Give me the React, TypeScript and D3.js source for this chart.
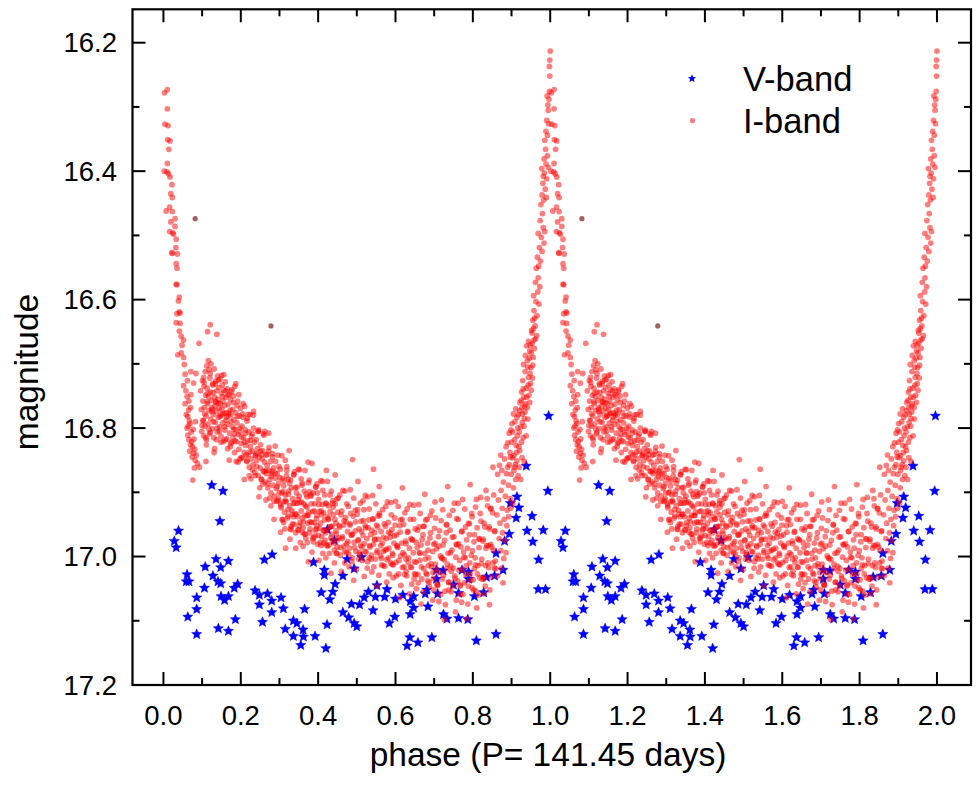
import React from "react";
import * as d3 from "d3";

type Pt = [number, number];

// V-band observations (phase, magnitude)
const vBand: Pt[] = [
  [0.125,16.889],[0.154,16.898],[0.146,16.945],[0.039,16.960],[0.028,16.976],[0.033,16.986],[0.136,17.004],[0.168,17.007],
  [0.108,17.016],[0.148,17.017],[0.128,17.030],[0.061,17.028],[0.059,17.039],[0.066,17.039],[0.141,17.039],[0.148,17.042],
  [0.192,17.043],[0.183,17.049],[0.106,17.049],[0.086,17.064],[0.149,17.062],[0.168,17.062],[0.158,17.068],[0.086,17.082],
  [0.063,17.094],[0.186,17.098],[0.142,17.112],[0.168,17.116],[0.086,17.121],[0.261,17.005],[0.281,16.997],[0.237,17.053],
  [0.248,17.060],[0.269,17.058],[0.304,17.064],[0.248,17.075],[0.280,17.069],[0.310,17.081],[0.280,17.087],[0.365,17.082],
  [0.256,17.102],[0.336,17.100],[0.345,17.104],[0.315,17.113],[0.361,17.114],[0.336,17.124],[0.362,17.125],[0.392,17.124],
  [0.355,17.138],[0.420,17.143],[0.423,17.106],[0.424,16.958],[0.442,16.975],[0.388,17.009],[0.416,17.021],[0.416,17.029],
  [0.464,17.030],[0.475,17.004],[0.493,17.019],[0.444,17.043],[0.438,17.055],[0.408,17.056],[0.430,17.067],[0.486,17.074],
  [0.464,17.087],[0.479,17.095],[0.493,17.104],[0.500,17.109],
  [0.938,16.859],[0.994,16.898],[0.914,16.907],[0.897,16.917],[0.919,16.924],[0.912,16.940],[0.953,16.937],[0.940,16.960],
  [0.982,16.959],[0.955,16.977],[0.894,16.965],[0.882,16.976],[0.970,17.005],[0.860,16.995],[0.878,17.021],[0.856,17.030],
  [0.835,17.032],[0.969,17.051],[0.988,17.051],[0.789,17.024],[0.772,17.021],[0.789,17.035],[0.723,17.022],[0.706,17.021],
  [0.706,17.035],[0.750,17.044],[0.763,17.057],[0.804,17.062],[0.828,17.056],[0.681,17.052],[0.709,17.058],[0.677,17.058],
  [0.684,17.078],[0.724,17.090],[0.733,17.097],[0.763,17.096],[0.787,17.098],[0.860,17.121],[0.809,17.131],[0.694,17.126],
  [0.658,17.134],[0.637,17.126],[0.630,17.139],[0.638,17.090],[0.647,17.080],[0.638,17.070],[0.647,17.062],[0.619,17.060],
  [0.600,17.066],[0.578,17.051],[0.552,17.045],[0.530,17.055],[0.548,17.063],[0.572,17.063],[0.519,17.064],[0.507,17.075],
  [0.542,17.084],[0.598,17.094],[0.584,17.104],[0.512,17.001],[0.996,16.781],
];

// I-band: fast decline after maximum
const iBandDecline: Pt[] = [
  [0.003,16.278],[0.010,16.273],[0.010,16.303],[0.004,16.327],[0.012,16.329],[0.011,16.351],[0.017,16.353],[0.014,16.366],
  [0.010,16.388],[0.002,16.400],[0.009,16.401],[0.013,16.404],[0.017,16.409],[0.022,16.421],[0.019,16.435],[0.023,16.441],
  [0.016,16.456],[0.007,16.462],[0.023,16.463],[0.019,16.479],[0.030,16.474],[0.030,16.486],[0.016,16.494],[0.024,16.496],
  [0.026,16.498],[0.033,16.506],[0.032,16.519],[0.022,16.527],[0.023,16.528],[0.036,16.529],[0.033,16.544],[0.035,16.551],
  [0.033,16.576],[0.035,16.577],[0.041,16.596],[0.039,16.602],[0.041,16.619],[0.043,16.621],[0.035,16.622],[0.033,16.636],
  [0.043,16.637],[0.041,16.649],[0.046,16.657],[0.052,16.663],[0.048,16.671],[0.046,16.683],[0.037,16.686],[0.052,16.690],
  [0.054,16.701],[0.056,16.716],[0.071,16.712],[0.084,16.715],[0.078,16.730],[0.052,16.734],[0.061,16.751],[0.056,16.762],
  [0.065,16.772],[0.063,16.782],[0.069,16.793],[0.061,16.800],[0.063,16.811],[0.073,16.821],[0.075,16.829],[0.078,16.839],
  [0.082,16.850],[0.093,16.861],[0.076,16.881],[0.092,16.668],[0.114,16.650],[0.121,16.639],[0.138,16.654],
  [0.058,16.742],[0.066,16.758],[0.070,16.768],[0.059,16.779],[0.067,16.789],[0.072,16.806],[0.066,16.818],[0.070,16.826],
  [0.079,16.817],[0.081,16.833],[0.074,16.845],[0.085,16.842],[0.088,16.855],[0.080,16.862],[0.068,16.836],[0.064,16.797],
  [0.077,16.802],[0.083,16.790],[0.071,16.748],[0.062,16.726],
];

// I-band: secondary bump and early decline
const iBandBump: Pt[] = [
  [0.096,16.742],[0.098,16.771],[0.099,16.805],[0.101,16.726],[0.102,16.758],[0.103,16.789],[0.104,16.812],[0.105,16.735],
  [0.106,16.768],[0.107,16.797],[0.108,16.712],[0.109,16.749],[0.110,16.781],[0.111,16.826],[0.112,16.703],[0.113,16.738],
  [0.114,16.762],[0.115,16.794],[0.116,16.695],[0.117,16.751],[0.118,16.773],[0.119,16.809],[0.120,16.722],[0.121,16.744],
  [0.122,16.786],[0.123,16.700],[0.124,16.757],[0.125,16.768],[0.126,16.801],[0.127,16.731],[0.128,16.745],[0.129,16.779],
  [0.130,16.815],[0.131,16.708],[0.132,16.752],[0.133,16.766],[0.134,16.791],[0.135,16.727],[0.136,16.760],[0.137,16.774],
  [0.138,16.742],[0.139,16.806],[0.140,16.719],[0.141,16.755],[0.142,16.783],[0.143,16.737],[0.144,16.769],[0.145,16.798],
  [0.146,16.724],[0.147,16.762],[0.148,16.780],[0.149,16.813],[0.150,16.746],[0.151,16.771],[0.152,16.733],[0.153,16.792],
  [0.154,16.758],[0.155,16.821],[0.156,16.741],[0.157,16.777],[0.158,16.765],[0.159,16.803],[0.160,16.728],[0.161,16.788],
  [0.162,16.752],[0.163,16.776],[0.164,16.817],[0.165,16.739],[0.166,16.794],[0.167,16.763],[0.168,16.781],[0.170,16.748],
  [0.171,16.808],[0.172,16.772],[0.173,16.829],[0.174,16.756],[0.175,16.790],[0.176,16.743],[0.178,16.798],[0.179,16.771],
  [0.180,16.815],[0.181,16.760],[0.182,16.787],[0.184,16.838],[0.185,16.735],[0.186,16.802],[0.187,16.776],[0.189,16.821],
  [0.190,16.792],[0.192,16.758],[0.193,16.810],[0.195,16.833],[0.196,16.781],[0.198,16.806],[0.199,16.769],[0.201,16.824],
  [0.203,16.797],[0.204,16.846],[0.206,16.783],[0.207,16.815],[0.209,16.838],[0.210,16.766],[0.212,16.803],[0.213,16.827],
  [0.215,16.851],[0.216,16.789],[0.218,16.820],[0.219,16.842],[0.221,16.806],[0.222,16.861],[0.224,16.779],[0.225,16.829],
  [0.227,16.848],[0.228,16.813],[0.230,16.836],[0.232,16.857],[0.233,16.800],[0.235,16.822],[0.236,16.869],[0.238,16.843],
  [0.240,16.818],[0.241,16.851],[0.243,16.832],[0.245,16.874],[0.246,16.803],[0.248,16.845],[0.250,16.862],[0.251,16.826],
  [0.253,16.880],[0.255,16.848],[0.256,16.835],[0.258,16.867],[0.260,16.811],[0.261,16.853],[0.263,16.884],[0.265,16.842],
  [0.266,16.871],[0.268,16.858],[0.270,16.893],[0.272,16.836],[0.273,16.866],[0.275,16.880],[0.277,16.852],[0.278,16.901],
  [0.280,16.871],[0.282,16.845],[0.283,16.889],[0.285,16.862],[0.287,16.906],[0.289,16.878],[0.290,16.852],[0.292,16.894],
  [0.294,16.871],[0.296,16.913],[0.298,16.886],[0.299,16.860],
  [0.131,16.838],[0.110,16.852],[0.187,16.731],[0.315,16.850],[0.374,16.853],[0.421,16.866],[0.489,16.849],[0.543,16.864],
];

// I-band: more points on the bump and early decline
const iBandBumpB: Pt[] = [
  [0.100,16.796],[0.104,16.721],[0.107,16.778],[0.111,16.818],[0.114,16.746],[0.118,16.709],[0.121,16.807],[0.125,16.771],
  [0.128,16.733],[0.132,16.832],[0.135,16.759],[0.139,16.800],[0.142,16.725],[0.146,16.782],[0.149,16.822],[0.153,16.751],
  [0.156,16.717],[0.160,16.818],[0.163,16.783],[0.167,16.748],[0.170,16.850],[0.174,16.779],[0.177,16.822],[0.181,16.750],
  [0.184,16.809],[0.188,16.852],[0.191,16.782],[0.195,16.748],[0.198,16.848],[0.202,16.814],[0.205,16.778],[0.209,16.880],
  [0.212,16.808],[0.216,16.852],[0.219,16.779],[0.223,16.837],[0.226,16.879],[0.230,16.809],[0.233,16.774],[0.237,16.874],
  [0.240,16.840],[0.244,16.805],[0.247,16.907],[0.251,16.836],[0.254,16.880],[0.258,16.809],[0.261,16.868],[0.265,16.912],
  [0.268,16.841],[0.272,16.808],[0.275,16.909],[0.279,16.875],[0.282,16.840],[0.286,16.942],[0.289,16.870],[0.293,16.914],
  [0.296,16.842],[0.299,16.901],
];

// I-band: third pass over the bump
const iBandBumpC: Pt[] = [
  [0.102,16.788],[0.105,16.729],[0.110,16.815],[0.113,16.759],[0.118,16.802],[0.121,16.715],[0.126,16.774],[0.129,16.790],
  [0.134,16.731],[0.137,16.818],[0.142,16.761],[0.145,16.805],[0.150,16.718],[0.153,16.778],[0.158,16.798],[0.161,16.742],
  [0.166,16.832],[0.169,16.777],[0.174,16.824],[0.177,16.740],[0.182,16.802],[0.185,16.820],[0.190,16.765],[0.193,16.853],
  [0.198,16.800],[0.201,16.846],[0.206,16.762],[0.209,16.822],[0.214,16.842],[0.217,16.785],[0.222,16.874],[0.225,16.819],
  [0.230,16.865],[0.233,16.780],[0.238,16.842],[0.241,16.860],[0.246,16.805],[0.249,16.893],[0.254,16.841],[0.257,16.887],
  [0.262,16.805],[0.265,16.866],[0.270,16.887],[0.273,16.830],[0.278,16.921],[0.281,16.867],[0.286,16.914],[0.289,16.828],
  [0.294,16.891],[0.297,16.910],
];

// I-band: slow plateau towards minimum (first set)
const iBandPlateauA: Pt[] = [
  [0.301,16.877],[0.303,16.918],[0.306,16.901],[0.308,16.942],[0.311,16.890],[0.313,16.931],[0.316,16.913],[0.318,16.874],
  [0.321,16.940],[0.323,16.903],[0.326,16.921],[0.328,16.957],[0.331,16.893],[0.333,16.934],[0.336,16.917],[0.338,16.950],
  [0.341,16.893],[0.343,16.934],[0.346,16.917],[0.348,16.958],[0.351,16.906],[0.353,16.947],[0.356,16.929],[0.358,16.889],
  [0.361,16.955],[0.363,16.918],[0.366,16.936],[0.368,16.971],[0.371,16.907],[0.373,16.948],[0.376,16.931],[0.378,16.963],
  [0.381,16.906],[0.383,16.947],[0.386,16.930],[0.388,16.970],[0.391,16.918],[0.393,16.959],[0.396,16.941],[0.398,16.901],
  [0.401,16.967],[0.403,16.930],[0.406,16.948],[0.408,16.983],[0.411,16.919],[0.413,16.960],[0.416,16.943],[0.418,16.975],
  [0.421,16.918],[0.423,16.959],[0.426,16.942],[0.428,16.982],[0.431,16.930],[0.433,16.971],[0.436,16.953],[0.438,16.913],
  [0.441,16.979],[0.443,16.942],[0.446,16.960],[0.448,16.995],[0.451,16.931],[0.453,16.971],[0.456,16.954],[0.458,16.986],
  [0.461,16.929],[0.463,16.969],[0.466,16.951],[0.468,16.992],[0.471,16.939],[0.473,16.980],[0.476,16.961],[0.478,16.922],
  [0.481,16.987],[0.483,16.949],[0.486,16.967],[0.488,17.002],[0.491,16.937],[0.493,16.978],[0.496,16.960],[0.498,16.992],
  [0.501,16.934],[0.503,16.975],[0.506,16.957],[0.508,16.997],[0.511,16.945],[0.513,16.985],[0.516,16.967],[0.518,16.927],
  [0.521,16.992],[0.523,16.955],[0.526,16.972],[0.528,17.008],[0.531,16.943],[0.533,16.983],[0.536,16.966],[0.538,16.998],
  [0.541,16.941],[0.543,16.981],[0.546,16.963],[0.548,17.004],[0.551,16.951],[0.553,16.991],[0.556,16.973],[0.558,16.933],
  [0.561,16.999],[0.563,16.961],[0.566,16.979],[0.568,17.014],[0.571,16.949],[0.573,16.990],[0.576,16.972],[0.578,17.005],
  [0.581,16.947],[0.583,16.987],[0.586,16.970],[0.588,17.010],[0.591,16.958],[0.593,16.998],[0.596,16.979],[0.598,16.940],
  [0.601,17.009],[0.603,16.966],[0.606,16.986],[0.608,17.027],[0.611,16.952],[0.613,16.999],[0.616,16.979],[0.618,17.017],
  [0.621,16.950],[0.623,16.997],[0.626,16.976],[0.628,17.023],[0.631,16.962],[0.633,17.009],[0.636,16.987],[0.638,16.942],
  [0.641,17.017],[0.643,16.974],[0.646,16.994],[0.648,17.035],[0.651,16.957],[0.653,17.009],[0.656,16.986],[0.658,17.028],
  [0.661,16.954],[0.663,17.006],[0.666,16.982],[0.668,17.035],[0.671,16.966],[0.673,17.019],[0.676,16.995],[0.678,16.943],
  [0.681,17.028],[0.683,16.979],[0.686,17.002],[0.688,17.047],[0.691,16.963],[0.693,17.016],[0.696,16.992],[0.698,17.034],
  [0.701,16.956],[0.703,17.012],[0.706,16.988],[0.708,17.044],[0.711,16.969],[0.713,17.025],[0.716,16.999],[0.718,16.944],
  [0.721,17.035],[0.723,16.982],[0.726,17.005],[0.728,17.054],[0.731,16.963],[0.733,17.019],[0.736,16.995],[0.738,17.040],
  [0.741,16.959],[0.743,17.015],[0.746,16.990],[0.748,17.046],[0.751,16.969],[0.753,17.030],[0.756,17.001],[0.758,16.941],
  [0.761,17.038],[0.763,16.980],[0.766,17.006],[0.768,17.059],[0.771,16.961],[0.773,17.020],[0.776,16.993],[0.778,17.041],
  [0.781,16.954],[0.783,17.014],[0.786,16.987],[0.788,17.046],[0.791,16.966],[0.793,17.027],[0.796,16.998],[0.798,16.938],
  [0.801,17.036],[0.803,16.977],[0.806,17.002],[0.808,17.054],[0.811,16.955],[0.813,17.014],[0.816,16.986],[0.818,17.033],
  [0.821,16.945],[0.823,17.004],[0.826,16.976],[0.828,17.035],[0.831,16.954],[0.833,17.014],[0.836,16.983],[0.838,16.921],
  [0.841,17.017],[0.843,16.957],[0.846,16.981],[0.848,17.032],[0.851,16.932],[0.853,16.990],[0.856,16.961],[0.858,17.007],
];

// I-band: slow plateau towards minimum (second set)
const iBandPlateauB: Pt[] = [
  [0.302,16.864],[0.304,16.924],[0.307,16.943],[0.309,16.899],[0.312,16.882],[0.314,16.957],[0.317,16.915],[0.319,16.860],
  [0.322,16.937],[0.324,16.898],[0.327,16.973],[0.329,16.881],[0.332,16.928],[0.334,16.949],[0.337,16.873],[0.339,16.917],
  [0.342,16.963],[0.344,16.901],[0.347,16.938],[0.349,16.864],[0.352,16.952],[0.354,16.978],[0.357,16.915],[0.359,16.886],
  [0.362,16.946],[0.364,16.965],[0.367,16.921],[0.369,16.903],[0.372,16.978],[0.374,16.936],[0.377,16.881],[0.379,16.957],
  [0.382,16.918],[0.384,16.993],[0.387,16.901],[0.389,16.947],[0.392,16.968],[0.394,16.892],[0.397,16.936],[0.399,16.981],
  [0.402,16.919],[0.404,16.956],[0.407,16.882],[0.409,16.969],[0.412,16.995],[0.414,16.932],[0.417,16.904],[0.419,16.963],
  [0.422,16.982],[0.424,16.938],[0.427,16.921],[0.429,16.995],[0.432,16.953],[0.434,16.898],[0.437,16.975],[0.439,16.935],
  [0.442,17.010],[0.444,16.918],[0.447,16.965],[0.449,16.985],[0.452,16.909],[0.454,16.952],[0.457,16.998],[0.459,16.935],
  [0.462,16.972],[0.464,16.897],[0.467,16.984],[0.469,17.010],[0.472,16.946],[0.474,16.918],[0.477,16.977],[0.479,16.996],
  [0.482,16.951],[0.484,16.933],[0.487,17.008],[0.489,16.965],[0.492,16.909],[0.494,16.986],[0.497,16.946],[0.499,17.020],
  [0.502,16.927],[0.504,16.974],[0.507,16.994],[0.509,16.917],[0.512,16.961],[0.514,17.006],[0.517,16.944],[0.519,16.980],
  [0.522,16.905],[0.524,16.993],[0.527,17.018],[0.529,16.955],[0.532,16.926],[0.534,16.985],[0.537,17.004],[0.539,16.959],
  [0.542,16.942],[0.544,17.016],[0.547,16.973],[0.549,16.918],[0.552,16.994],[0.554,16.954],[0.557,17.029],[0.559,16.936],
  [0.562,16.983],[0.564,17.003],[0.567,16.927],[0.569,16.970],[0.572,17.015],[0.574,16.953],[0.577,16.989],[0.579,16.915],
  [0.582,17.002],[0.584,17.027],[0.587,16.964],[0.589,16.935],[0.592,16.995],[0.594,17.013],[0.597,16.968],[0.599,16.951],
  [0.602,17.030],[0.604,16.983],[0.607,16.922],[0.609,17.006],[0.612,16.962],[0.614,17.045],[0.617,16.942],[0.619,16.994],
  [0.622,17.016],[0.624,16.932],[0.627,16.980],[0.629,17.030],[0.632,16.961],[0.634,17.002],[0.637,16.919],[0.639,17.016],
  [0.642,17.043],[0.644,16.974],[0.647,16.942],[0.649,17.008],[0.652,17.028],[0.654,16.978],[0.657,16.959],[0.659,17.041],
  [0.662,16.994],[0.664,16.933],[0.667,17.016],[0.669,16.973],[0.672,17.055],[0.674,16.953],[0.677,17.004],[0.679,17.026],
  [0.682,16.942],[0.684,16.990],[0.687,17.040],[0.689,16.971],[0.692,17.011],[0.694,16.929],[0.697,17.025],[0.699,17.052],
  [0.702,16.979],[0.704,16.940],[0.707,17.020],[0.709,17.045],[0.712,16.984],[0.714,16.960],[0.717,17.059],[0.719,17.002],
  [0.722,16.927],[0.724,17.029],[0.727,16.975],[0.729,17.075],[0.732,16.950],[0.734,17.012],[0.737,17.040],[0.739,16.936],
  [0.742,16.994],[0.744,17.055],[0.747,16.970],[0.749,17.018],[0.752,16.917],[0.754,17.034],[0.757,17.068],[0.759,16.982],
  [0.762,16.942],[0.764,17.021],[0.767,17.046],[0.769,16.985],[0.772,16.961],[0.774,17.059],[0.777,17.001],[0.779,16.926],
  [0.782,17.028],[0.784,16.974],[0.787,17.074],[0.789,16.948],[0.792,17.010],[0.794,17.037],[0.797,16.933],[0.799,16.991],
  [0.802,17.052],[0.804,16.966],[0.807,17.013],[0.809,16.911],[0.812,17.027],[0.814,17.060],[0.817,16.973],[0.819,16.933],
  [0.822,17.011],[0.824,17.035],[0.827,16.973],[0.829,16.948],[0.832,17.046],[0.834,16.987],[0.837,16.910],[0.839,17.010],
  [0.842,16.954],[0.844,17.052],[0.847,16.925],[0.849,16.985],[0.852,17.010],[0.854,16.904],[0.857,16.960],[0.859,17.019],
];

// I-band: plateau, scattered edge points
const iBandPlateauC: Pt[] = [
  [0.303,16.962],[0.306,16.843],[0.312,16.914],[0.316,16.987],[0.323,16.880],[0.325,16.835],[0.330,16.958],[0.336,16.938],
  [0.339,16.868],[0.342,16.987],[0.348,16.911],[0.352,16.865],[0.359,16.962],[0.361,16.984],[0.366,16.866],[0.372,16.936],
  [0.375,17.008],[0.378,16.899],[0.384,16.855],[0.388,16.977],[0.395,16.957],[0.397,16.887],[0.402,17.006],[0.408,16.929],
  [0.411,16.883],[0.414,16.979],[0.420,17.002],[0.424,16.883],[0.431,16.954],[0.433,17.026],[0.438,16.917],[0.444,16.873],
  [0.447,16.995],[0.450,16.974],[0.456,16.904],[0.460,17.023],[0.467,16.944],[0.469,16.898],[0.474,16.994],[0.480,17.016],
  [0.483,16.896],[0.486,16.966],[0.492,17.037],[0.496,16.928],[0.503,16.883],[0.505,17.004],[0.510,16.983],[0.516,16.913],
  [0.519,17.031],[0.522,16.952],[0.528,16.907],[0.532,17.002],[0.539,17.024],[0.541,16.905],[0.546,16.974],[0.552,17.046],
  [0.555,16.937],[0.558,16.891],[0.564,17.013],[0.568,16.992],[0.575,16.922],[0.577,17.040],[0.582,16.962],[0.588,16.916],
  [0.591,17.012],[0.594,17.033],[0.600,16.914],[0.604,16.984],[0.611,17.064],[0.613,16.943],[0.618,16.893],[0.624,17.028],
  [0.627,17.004],[0.630,16.926],[0.636,17.058],[0.640,16.972],[0.647,16.920],[0.649,17.027],[0.654,17.050],[0.660,16.919],
  [0.663,16.995],[0.666,17.074],[0.672,16.953],[0.676,16.903],[0.683,17.038],[0.685,17.014],[0.690,16.936],[0.696,17.068],
  [0.699,16.981],[0.702,16.915],[0.708,17.043],[0.712,17.070],[0.719,16.912],[0.721,17.003],[0.726,17.098],[0.732,16.951],
  [0.735,16.891],[0.738,17.052],[0.744,17.023],[0.748,16.928],[0.755,17.086],[0.757,16.981],[0.762,16.917],[0.768,17.044],
  [0.771,17.071],[0.774,16.911],[0.780,17.002],[0.784,17.097],[0.791,16.949],[0.793,16.888],[0.798,17.049],[0.804,17.019],
  [0.807,16.923],[0.810,17.080],[0.816,16.972],[0.820,16.908],[0.827,17.032],[0.829,17.058],[0.834,16.897],[0.840,16.983],
  [0.843,17.075],[0.846,16.926],[0.852,16.861],[0.856,17.018],
];

// I-band: extra points on the early plateau
const iBandPlateauD: Pt[] = [
  [0.304,16.921],[0.307,16.879],[0.311,16.947],[0.315,16.904],[0.319,16.866],[0.322,16.927],[0.326,16.886],[0.330,16.953],
  [0.334,16.910],[0.337,16.872],[0.341,16.934],[0.345,16.892],[0.349,16.959],[0.352,16.916],[0.356,16.879],[0.360,16.940],
  [0.364,16.898],[0.367,16.965],[0.371,16.923],[0.375,16.885],[0.379,16.946],[0.382,16.904],[0.386,16.972],[0.390,16.929],
  [0.394,16.891],[0.397,16.952],[0.401,16.911],[0.405,16.978],[0.409,16.935],[0.412,16.897],[0.416,16.959],[0.420,16.917],
  [0.424,16.984],[0.427,16.941],[0.431,16.904],[0.435,16.965],[0.439,16.923],[0.442,16.990],[0.446,16.948],[0.449,16.910],
];

// I-band: steep rise to the next maximum
const iBandRise: Pt[] = [
  [0.862,16.935],[0.866,16.912],[0.870,16.948],[0.873,16.897],[0.876,16.925],[0.879,16.884],[0.881,16.942],[0.884,16.906],
  [0.887,16.871],[0.889,16.928],[0.892,16.889],[0.894,16.857],[0.897,16.910],[0.899,16.872],[0.902,16.846],[0.905,16.893],
  [0.908,16.861],[0.911,16.880],[0.914,16.851],[0.917,16.874],[0.868,16.972],[0.872,16.991],[0.877,16.963],[0.883,16.975],
  [0.888,16.952],[0.893,16.938],[0.898,16.925],[0.903,16.917],[0.874,17.018],[0.880,17.003],[0.886,16.994],[0.864,17.030],
  [0.878,17.041],
  [0.896,16.838],[0.900,16.822],[0.903,16.806],[0.906,16.843],[0.909,16.790],[0.912,16.827],[0.915,16.812],[0.918,16.779],
  [0.921,16.835],[0.924,16.798],[0.927,16.768],[0.930,16.815],[0.933,16.785],[0.936,16.762],[0.910,16.857],[0.916,16.800],
  [0.922,16.760],[0.928,16.791],[0.898,16.803],[0.905,16.778],
  [0.926,16.744],[0.929,16.726],[0.932,16.752],[0.935,16.712],[0.938,16.738],[0.941,16.695],[0.944,16.721],[0.947,16.680],
  [0.950,16.706],[0.953,16.668],[0.956,16.690],[0.939,16.672],[0.945,16.749],[0.931,16.701],[0.958,16.663],[0.949,16.731],
  [0.936,16.687],
  [0.952,16.648],[0.955,16.632],[0.958,16.617],[0.961,16.641],[0.963,16.603],[0.966,16.625],[0.968,16.588],[0.971,16.607],
  [0.957,16.594],[0.962,16.573],[0.965,16.656],[0.969,16.566],[0.973,16.580],
  [0.964,16.551],[0.967,16.534],[0.970,16.548],[0.972,16.519],[0.975,16.540],[0.977,16.503],[0.979,16.525],[0.982,16.488],
  [0.984,16.512],[0.974,16.477],[0.980,16.466],[0.986,16.494],[0.969,16.497],
  [0.976,16.452],[0.979,16.437],[0.981,16.419],[0.983,16.445],[0.985,16.403],[0.987,16.428],[0.989,16.389],[0.991,16.412],
  [0.993,16.376],[0.978,16.396],[0.984,16.381],[0.988,16.366],[0.995,16.394],[0.982,16.408],[0.990,16.441],
  [0.986,16.352],[0.989,16.338],[0.991,16.321],[0.993,16.344],[0.995,16.305],[0.996,16.326],[0.997,16.288],[0.998,16.276],
  [0.999,16.252],[0.998,16.237],[0.999,16.227],[1.000,16.213],[0.994,16.297],[0.992,16.283],
];

// I-band: broader scatter on the rising branch
const iBandRiseB: Pt[] = [
  [0.864,16.872],[0.869,16.858],[0.875,16.866],[0.882,16.848],[0.890,16.861],[0.897,16.845],[0.906,16.866],[0.913,16.838],
  [0.920,16.861],[0.927,16.846],[0.933,16.852],[0.872,16.842],[0.886,16.829],[0.924,16.880],
  [0.890,16.823],[0.894,16.808],[0.901,16.793],[0.908,16.818],[0.914,16.783],[0.920,16.806],[0.926,16.822],[0.932,16.797],
  [0.938,16.812],[0.942,16.786],[0.919,16.829],[0.935,16.775],[0.911,16.770],
  [0.921,16.773],[0.925,16.757],[0.930,16.739],[0.934,16.766],[0.939,16.752],[0.943,16.733],[0.947,16.760],[0.951,16.741],
  [0.954,16.722],[0.941,16.768],[0.928,16.778],[0.948,16.715],
  [0.942,16.705],[0.946,16.691],[0.951,16.683],[0.955,16.702],[0.959,16.676],[0.962,16.661],[0.944,16.665],[0.957,16.645],
  [0.960,16.629],[0.953,16.652],[0.948,16.671],
];

// Two isolated darker points
const oddPoints: Pt[] = [[0.082,16.474],[0.278,16.641]];

const xMajorTicks = [0, 0.2, 0.4, 0.6, 0.8, 1.0, 1.2, 1.4, 1.6, 1.8, 2.0];
const xMinorTicks = [0.1, 0.3, 0.5, 0.7, 0.9, 1.1, 1.3, 1.5, 1.7, 1.9];
const yMajorTicks = [16.2, 16.4, 16.6, 16.8, 17.0, 17.2];
const yMinorTicks = [16.3, 16.5, 16.7, 16.9, 17.1];
const legendLabels = ["V-band", "I-band"];
const xLabel = "phase (P= 141.45 days)";
const yLabel = "magnitude";

const W = 977;
const H = 789;
const L = 132.5, R = 971, T = 9.3, B = 685;

const x = d3.scaleLinear().domain([-0.08, 2.088]).range([L, R]);
const y = d3.scaleLinear().domain([16.148, 17.2]).range([T, B]);

const FONT = "'Liberation Sans', Arial, Helvetica, sans-serif";

function starD(outer: number, inner: number): string {
  const p = d3.path();
  for (let i = 0; i < 10; i++) {
    const a = -Math.PI / 2 + (i * Math.PI) / 5;
    const rr = i % 2 === 0 ? outer : inner;
    const px = Math.cos(a) * rr;
    const py = Math.sin(a) * rr;
    if (i === 0) p.moveTo(px, py);
    else p.lineTo(px, py);
  }
  p.closePath();
  return p.toString();
}

const starPath = starD(5.4, 2.45);
const legendStarPath = starD(4.3, 1.95);

const iBandAll: Pt[] = [
  ...iBandDecline, ...iBandBump, ...iBandBumpB, ...iBandBumpC,
  ...iBandPlateauA, ...iBandPlateauB, ...iBandPlateauC, ...iBandPlateauD,
  ...iBandRise, ...iBandRiseB,
];

function twoCycles(pts: Pt[]): Pt[] {
  return [...pts, ...pts.map(([p, m]) => [p + 1, m] as Pt)];
}

export default function App() {
  const vPts = twoCycles(vBand);
  const iPts = twoCycles(iBandAll);
  const oPts = twoCycles(oddPoints);
  const major = 13;
  const minor = 7;
  return (
    <svg
      width={W}
      height={H}
      style={{ position: "absolute", left: 0, top: 0, background: "#fff" }}
      fontFamily={FONT}
    >
      <rect x={0} y={0} width={W} height={H} fill="#fff" />
      {/* V-band stars */}
      <g fill="#0000ff" stroke="#0000ff" strokeWidth={0.4}>
        {vPts.map(([p, m], i) => (
          <path key={"v" + i} d={starPath} transform={`translate(${x(p)},${y(m)})`} />
        ))}
      </g>
      {/* I-band dots */}
      <g fill="#ff0000" fillOpacity={0.5}>
        {iPts.map(([p, m], i) => (
          <circle key={"i" + i} cx={x(p)} cy={y(m)} r={2.9} />
        ))}
      </g>
      <g fill="#a36262">
        {oPts.map(([p, m], i) => (
          <circle key={"o" + i} cx={x(p)} cy={y(m)} r={2.6} />
        ))}
      </g>

      {/* frame */}
      <rect x={L} y={T} width={R - L} height={B - T} fill="none" stroke="#000" strokeWidth={2.2} />

      {/* ticks */}
      <g stroke="#000" strokeWidth={2}>
        {xMajorTicks.map((t) => (
          <g key={"xm" + t}>
            <line x1={x(t)} x2={x(t)} y1={B} y2={B - major} />
            <line x1={x(t)} x2={x(t)} y1={T} y2={T + major} />
          </g>
        ))}
        {xMinorTicks.map((t) => (
          <g key={"xn" + t}>
            <line x1={x(t)} x2={x(t)} y1={B} y2={B - minor} />
            <line x1={x(t)} x2={x(t)} y1={T} y2={T + minor} />
          </g>
        ))}
        {yMajorTicks.map((t) => (
          <g key={"ym" + t}>
            <line x1={L} x2={L + major} y1={y(t)} y2={y(t)} />
            <line x1={R} x2={R - major} y1={y(t)} y2={y(t)} />
          </g>
        ))}
        {yMinorTicks.map((t) => (
          <g key={"yn" + t}>
            <line x1={L} x2={L + minor} y1={y(t)} y2={y(t)} />
            <line x1={R} x2={R - minor} y1={y(t)} y2={y(t)} />
          </g>
        ))}
      </g>

      {/* tick labels */}
      <g fontSize={27.5} fill="#000">
        {xMajorTicks.map((t) => (
          <text key={"xl" + t} x={x(t)} y={725} textAnchor="middle">
            {d3.format(".1f")(t)}
          </text>
        ))}
        {yMajorTicks.map((t) => (
          <text key={"yl" + t} x={117} y={y(t) + 9.7} textAnchor="end">
            {d3.format(".1f")(t)}
          </text>
        ))}
      </g>

      {/* axis labels */}
      <text x={548} y={766} textAnchor="middle" fontSize={33.5} fill="#000">
        {xLabel}
      </text>
      <text
        transform={`translate(38,372) rotate(-90)`}
        textAnchor="middle"
        fontSize={33.5}
        fill="#000"
      >
        {yLabel}
      </text>

      {/* legend */}
      <path d={legendStarPath} transform="translate(692,78.5)" fill="#0000ff" />
      <circle cx={692.5} cy={120.7} r={2.6} fill="#ff0000" fillOpacity={0.5} />
      <text x={743} y={90.5} fontSize={34.5} fill="#000">{legendLabels[0]}</text>
      <text x={743} y={132.5} fontSize={34.5} fill="#000">{legendLabels[1]}</text>
    </svg>
  );
}
